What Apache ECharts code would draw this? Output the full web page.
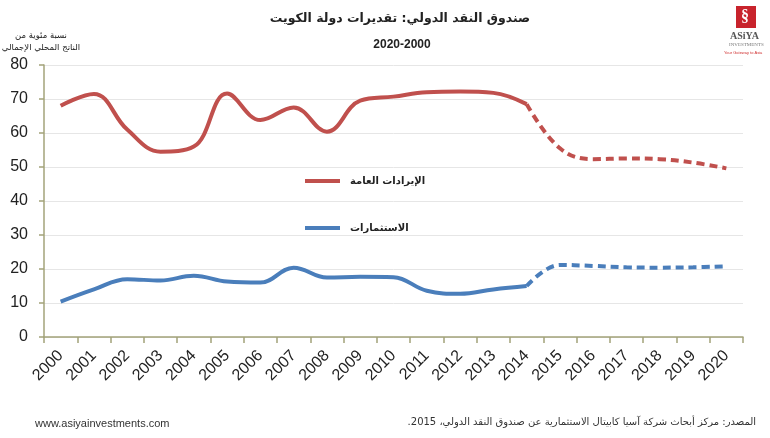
<!DOCTYPE html>
<html>
<head>
    <meta charset="utf-8">
    <title>ECharts</title>
    <script src="https://cdn.jsdelivr.net/npm/echarts@6/dist/echarts.min.js"></script>
    <style>body{margin:0;background:#fff;}</style>
</head>
<body>
<div id="main" style="width: 770px;height:438px;"></div>
<script type="text/javascript">
    // years and values (% of GDP)
    var years = ['2000', '2001', '2002', '2003', '2004', '2005', '2006', '2007', '2008', '2009', '2010',
        '2011', '2012', '2013', '2014', '2015', '2016', '2017', '2018', '2019', '2020'];
    var revenueActual = [68, 71.5, 61, 54.5, 56, 71.6, 63.8, 67.5, 60.4, 69.5, 70.7, 72, 72.2, 71.8, 68.5];
    var revenueForecast = [68.5, 55.5, 52.3, 52.5, 52.3, 51.3, 49.6];
    var investActual = [10.4, 14, 17, 16.6, 18, 16.3, 16, 20.4, 17.5, 17.7, 17.6, 13.6, 12.7, 14, 15];
    var investForecast = [15, 21.2, 20.9, 20.5, 20.4, 20.5, 20.8];
    var yTicks = [0, 10, 20, 30, 40, 50, 60, 70, 80];

    var revenueName = 'الإيرادات العامة';
    var investName = 'الاستثمارات';
    var arabicFont = 'DejaVu Sans';

    // pad the forecast part so it starts at 2014
    function padForecast(arr) {
        var out = [];
        for (var i = 0; i < years.length - arr.length; i++) out.push(null);
        return out.concat(arr);
    }

    var chartDom = document.getElementById('main');
    var myChart = echarts.init(chartDom);

    var axisColor = '#a3a37a';
    var red = '#c0504d';
    var blue = '#4a7ebb';

    var option = {
        animation: false,
        title: [{
            text: 'صندوق النقد الدولي: تقديرات دولة الكويت',
            left: 395,
            top: 7,
            textAlign: 'center',
            textStyle: {fontFamily: arabicFont, fontSize: 12.5, fontWeight: 'bold', color: '#222'}
        }, {
            text: '2020-2000',
            left: 397,
            top: 34,
            textAlign: 'center',
            textStyle: {fontFamily: 'Liberation Sans', fontSize: 12, fontWeight: 'bold', color: '#222'}
        }],
        legend: [{
            data: [revenueName],
            left: 300,
            top: 171,
            icon: 'rect',
            itemWidth: 35,
            itemHeight: 4,
            textStyle: {fontFamily: arabicFont, fontSize: 10, fontWeight: 'bold', color: '#222', padding: [0, 0, 0, 5]}
        }, {
            data: [investName],
            left: 300,
            top: 218,
            icon: 'rect',
            itemWidth: 35,
            itemHeight: 4,
            textStyle: {fontFamily: arabicFont, fontSize: 10, fontWeight: 'bold', color: '#222', padding: [0, 0, 0, 5]}
        }],
        grid: {left: 44, right: 27, top: 65, bottom: 101},
        xAxis: {
            type: 'category',
            data: years,
            boundaryGap: true,
            axisLine: {lineStyle: {color: axisColor, width: 1.5}},
            axisTick: {show: true, length: 6, lineStyle: {color: axisColor, width: 1.5}},
            axisLabel: {
                interval: 0,
                rotate: 45,
                margin: 16,
                fontFamily: 'Liberation Sans',
                fontSize: 16,
                color: '#222'
            }
        },
        yAxis: {
            type: 'value',
            min: yTicks[0],
            max: yTicks[yTicks.length - 1],
            interval: 10,
            axisLine: {show: true, lineStyle: {color: axisColor, width: 1.5}},
            axisTick: {show: true, length: 5, lineStyle: {color: axisColor, width: 1.5}},
            axisLabel: {fontFamily: 'Liberation Sans', fontSize: 16, color: '#222', margin: 16},
            splitLine: {lineStyle: {color: '#e6e6e6'}}
        },
        series: [{
            name: revenueName,
            type: 'line',
            data: revenueActual,
            smooth: 0.4,
            showSymbol: false,
            lineStyle: {color: red, width: 4},
            itemStyle: {color: red}
        }, {
            name: revenueName,
            type: 'line',
            data: padForecast(revenueForecast),
            smooth: 0.4,
            showSymbol: false,
            lineStyle: {color: red, width: 4, type: [8, 5]},
            itemStyle: {color: red}
        }, {
            name: investName,
            type: 'line',
            data: investActual,
            smooth: 0.4,
            showSymbol: false,
            lineStyle: {color: blue, width: 4},
            itemStyle: {color: blue}
        }, {
            name: investName,
            type: 'line',
            data: padForecast(investForecast),
            smooth: 0.4,
            showSymbol: false,
            lineStyle: {color: blue, width: 4, type: [8, 5]},
            itemStyle: {color: blue}
        }],
        graphic: [
            // y axis name
            {type: 'text', x: 41, y: 30, style: {
                text: 'نسبة مئوية من\nالناتج المحلي الإجمالي',
                font: '8.5px "DejaVu Sans"', fill: '#222', align: 'center', lineHeight: 12
            }},
            // logo top right
            {type: 'rect', left: 736, top: 6, shape: {width: 20, height: 22}, style: {fill: '#c8232c'}},
            {type: 'text', left: 741, top: 9, style: {text: '§', font: 'bold 16px "Liberation Serif"', fill: '#fff'}},
            {type: 'text', left: 730, top: 31, style: {text: 'ASiYA', font: 'bold 10px "Liberation Serif"', fill: '#555'}},
            {type: 'text', left: 729, top: 42, style: {text: 'INVESTMENTS', font: '5px "Liberation Serif"', fill: '#777'}},
            {type: 'text', left: 724, top: 51, style: {text: 'Your Gateway to Asia', font: '4px "Liberation Sans"', fill: '#d03030'}},
            // footer
            {type: 'text', left: 35, top: 418, style: {text: 'www.asiyainvestments.com', font: '11px "Liberation Sans"', fill: '#333'}},
            {type: 'text', right: 14, top: 417, style: {
                text: 'المصدر: مركز أبحاث شركة آسيا كابيتال الاستثمارية عن صندوق النقد الدولي، 2015.\u200F',
                font: '10px "DejaVu Sans"', fill: '#333'
            }}
        ]
    };
    if (option && typeof option === 'object') {
        myChart.setOption(option);
    }
</script>
</body>
</html>
